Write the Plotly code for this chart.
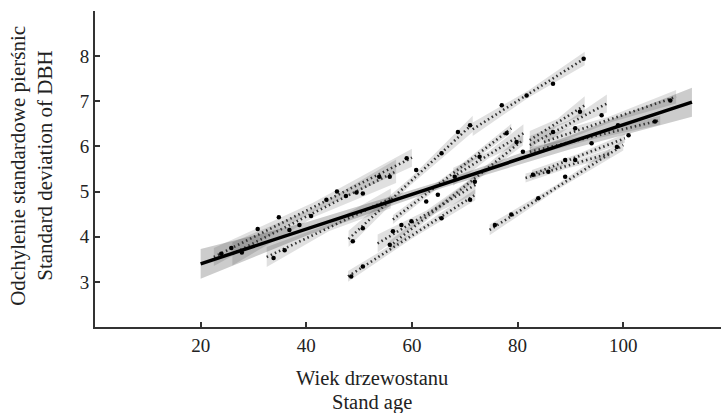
import plotly.graph_objects as go

# ---- pooled (population-level) regression ----
main_x = [20, 113]
main_y = [3.40, 6.98]
main_band_x = [20, 40, 66, 90, 113]
main_band_lo = [3.07, 4.02, 5.09, 5.94, 6.66]
main_band_hi = [3.73, 4.32, 5.25, 6.24, 7.30]

# ---- stand-level regressions (start/end of each fitted line) ----
stand_x0 = [22.5, 26.0, 32.5, 48.0, 71.5, 47.9, 53.5, 55.8, 56.4, 67.8, 74.7, 82.7, 82.3, 82.3, 82.3, 85.0, 81.5]
stand_y0 = [3.55, 3.62, 3.55, 3.95, 6.38, 3.12, 3.85, 3.79, 4.38, 5.33, 4.15, 5.38, 5.88, 6.03, 6.14, 6.10, 5.30]
stand_x1 = [60.0, 57.0, 56.0, 71.5, 92.7, 72.0, 72.0, 81.0, 78.8, 81.1, 100.0, 100.3, 107.0, 96.9, 92.7, 110.0, 97.5]
stand_y1 = [5.75, 5.45, 4.85, 6.50, 7.95, 4.93, 5.15, 6.14, 6.40, 6.29, 6.03, 6.18, 6.58, 6.95, 6.91, 7.10, 5.85]
# confidence half-widths at the ends and in the middle of each stand line
stand_ci_end = [0.20, 0.26, 0.22, 0.18, 0.15, 0.12, 0.20, 0.12, 0.10, 0.20, 0.12, 0.10, 0.10, 0.20, 0.20, 0.15, 0.10]
stand_ci_mid = [0.10, 0.10, 0.08, 0.08, 0.08, 0.07, 0.08, 0.06, 0.06, 0.08, 0.06, 0.06, 0.06, 0.08, 0.08, 0.07, 0.06]

# ---- observations ----
obs_x = [23.9, 25.8, 27.8, 30.8, 33.8, 34.8, 35.9, 36.8, 38.7, 40.9, 43.8, 45.8, 47.5, 49.5, 48.8, 48.5,
         50.7, 50.7, 50.7, 53.8, 55.8, 59.0, 55.8, 56.4, 58.0, 59.9, 60.8, 62.7, 64.9, 65.6, 65.6, 68.1,
         68.7, 71.0, 71.0, 71.9, 72.8, 77.0, 77.9, 79.8, 81.7, 81.0, 82.9, 75.7, 78.8, 86.7, 92.5, 91.8,
         95.9, 86.7, 90.9, 94.0, 98.8, 101.0, 106.0, 108.9, 89.0, 90.9, 85.8, 89.0, 83.9, 99.0]
obs_y = [3.62, 3.75, 3.65, 4.17, 3.53, 4.43, 3.70, 4.15, 4.26, 4.46, 4.82, 5.00, 4.90, 4.98, 3.90, 3.12,
         4.19, 3.34, 4.96, 5.33, 5.33, 5.74, 3.82, 4.12, 4.26, 4.34, 5.48, 4.78, 4.93, 4.41, 5.85, 5.33,
         6.32, 6.47, 4.82, 5.22, 5.77, 6.91, 6.29, 6.10, 7.13, 5.88, 5.37, 4.26, 4.49, 7.39, 7.94, 6.77,
         6.69, 6.32, 6.40, 6.07, 5.99, 6.25, 6.55, 7.02, 5.70, 5.70, 5.44, 5.33, 4.85, 6.47]

x_ticks = [20, 40, 60, 80, 100]
y_ticks = [3, 4, 5, 6, 7, 8]

FONT = "Liberation Serif"
fig = go.Figure()

# stand confidence bands
for i in range(len(stand_x0)):
    x0, x1, y0, y1 = stand_x0[i], stand_x1[i], stand_y0[i], stand_y1[i]
    xm, ym = (x0 + x1) / 2, (y0 + y1) / 2
    e, m = stand_ci_end[i], stand_ci_mid[i]
    px = [x0, xm, x1, x1, xm, x0, x0]
    py = [y0 + e, ym + m, y1 + e, y1 - e, ym - m, y0 - e, y0 + e]
    fig.add_trace(go.Scatter(x=px, y=py, mode="lines", fill="toself",
                             fillcolor="rgba(0,0,0,0.12)", line=dict(width=0),
                             hoverinfo="skip", showlegend=False))

# main band
fig.add_trace(go.Scatter(x=main_band_x + main_band_x[::-1],
                         y=main_band_hi + main_band_lo[::-1],
                         mode="lines", fill="toself", fillcolor="rgba(0,0,0,0.2)",
                         line=dict(width=0), hoverinfo="skip", showlegend=False))

# stand lines
for i in range(len(stand_x0)):
    fig.add_trace(go.Scatter(x=[stand_x0[i], stand_x1[i]], y=[stand_y0[i], stand_y1[i]],
                             mode="lines", line=dict(color="#333333", width=2.6, dash="1.5px,3px"),
                             showlegend=False))

# observations
fig.add_trace(go.Scatter(x=obs_x, y=obs_y, mode="markers",
                         marker=dict(color="black", size=4.5), showlegend=False))

# main line
fig.add_trace(go.Scatter(x=main_x, y=main_y, mode="lines",
                         line=dict(color="black", width=3.5), showlegend=False))

axis_common = dict(showgrid=False, zeroline=False, showline=True, linecolor="#333333",
                   linewidth=2, ticks="inside", ticklen=5, tickwidth=1.5, tickcolor="#333333",
                   tickfont=dict(family=FONT, size=19, color="#222222"))

fig.update_layout(
    width=721, height=413,
    margin=dict(l=95, r=0, t=11, b=86),
    paper_bgcolor="white", plot_bgcolor="white",
    xaxis=dict(range=[0, 118.5], tickvals=x_ticks, **axis_common),
    yaxis=dict(range=[2, 9], tickvals=y_ticks, **axis_common),
    showlegend=False,
)

title_font = dict(family=FONT, size=20.5, color="#222222")
fig.add_annotation(text="Wiek drzewostanu", xref="paper", yref="paper", x=0.442, y=-0.161,
                   showarrow=False, font=title_font, yanchor="middle")
fig.add_annotation(text="Stand age", xref="paper", yref="paper", x=0.442, y=-0.238,
                   showarrow=False, font=title_font, yanchor="middle")
fig.add_annotation(text="Odchylenie standardowe pierśnic", xref="paper", yref="paper",
                   x=-0.123, y=0.51, xanchor="center", yanchor="middle",
                   showarrow=False, font=dict(family=FONT, size=21, color="#222222"), textangle=-90)
fig.add_annotation(text="Standard deviation of DBH", xref="paper", yref="paper",
                   x=-0.080, y=0.51, xanchor="center", yanchor="middle",
                   showarrow=False, font=dict(family=FONT, size=21, color="#222222"), textangle=-90)

fig.write_html("out.html", config={"displayModeBar": False},
               post_script="document.body.style.margin='0';document.body.style.overflow='hidden';")
